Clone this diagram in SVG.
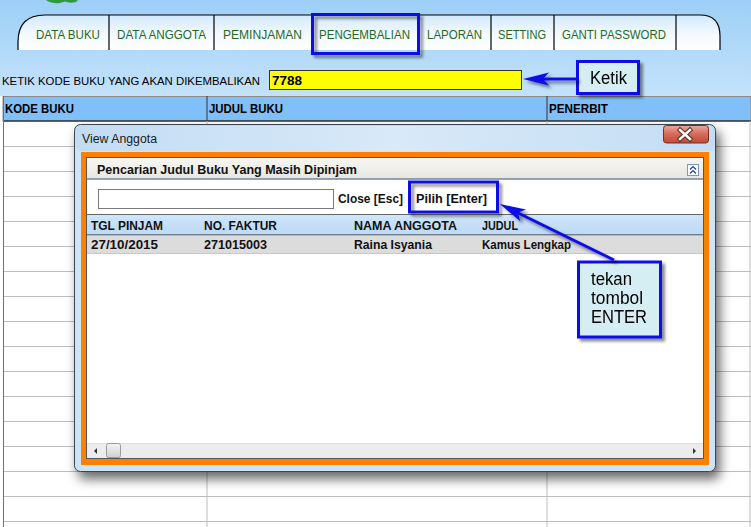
<svg xmlns="http://www.w3.org/2000/svg" width="751" height="527" viewBox="0 0 751 527">
<defs>
<style>
.ui{font-family:"Liberation Sans",Arial,sans-serif;}
.tab{font-family:"Liberation Sans",Arial,sans-serif;font-size:12.5px;fill:#1f6a1f;}
.hdr{font-family:"Liberation Sans",Arial,sans-serif;font-size:12px;font-weight:bold;fill:#000;}
.cell{font-family:"Liberation Sans",Arial,sans-serif;font-size:12px;font-weight:bold;fill:#111;}
.call{font-family:"Liberation Sans",Arial,sans-serif;font-size:17.5px;fill:#000;}
.grid{stroke:#bdbdbd;stroke-width:1;}
.sep{stroke:#000;stroke-width:1.2;}
.hl{fill:none;stroke:#1010e8;stroke-width:3;}
.box{fill:#d4eef4;stroke:#1010e8;stroke-width:3;}
.conn{fill:none;stroke:#1010e8;stroke-width:3;}
</style>
<linearGradient id="bg" x1="0" y1="0" x2="0" y2="1">
<stop offset="0" stop-color="#9dcff7"/>
<stop offset="1" stop-color="#c4e2fb"/>
</linearGradient>
<linearGradient id="tabg" x1="0" y1="0" x2="0" y2="1">
<stop offset="0" stop-color="#d2e9fb"/>
<stop offset="0.55" stop-color="#f4f9fe"/>
<stop offset="1" stop-color="#ffffff"/>
</linearGradient>
<linearGradient id="frameg" x1="0" y1="0" x2="0" y2="1">
<stop offset="0" stop-color="#bcd9f3"/>
<stop offset="0.08" stop-color="#cfe4f7"/>
<stop offset="1" stop-color="#cde3f7"/>
</linearGradient>
<linearGradient id="titleg" x1="0" y1="0" x2="1" y2="0">
<stop offset="0" stop-color="#c2dcf4"/>
<stop offset="0.5" stop-color="#d8e9f8"/>
<stop offset="1" stop-color="#c4ddf4"/>
</linearGradient>
<linearGradient id="bandg" x1="0" y1="0" x2="0" y2="1">
<stop offset="0" stop-color="#f7f6f2"/>
<stop offset="1" stop-color="#e8e6de"/>
</linearGradient>
<linearGradient id="gridhg" x1="0" y1="0" x2="0" y2="1">
<stop offset="0" stop-color="#d0e6fa"/>
<stop offset="1" stop-color="#bcd9f5"/>
</linearGradient>
<linearGradient id="closeg" x1="0" y1="0" x2="0" y2="1">
<stop offset="0" stop-color="#e9a89c"/>
<stop offset="0.5" stop-color="#d46a58"/>
<stop offset="1" stop-color="#c24a34"/>
</linearGradient>
<linearGradient id="thumbg" x1="0" y1="0" x2="0" y2="1">
<stop offset="0" stop-color="#f4f4f4"/>
<stop offset="1" stop-color="#cfcfcf"/>
</linearGradient>
<filter id="sh" x="-20%" y="-20%" width="150%" height="160%">
<feDropShadow dx="3" dy="3" stdDeviation="1.8" flood-color="#000" flood-opacity="0.45"/>
</filter>
<filter id="dlgsh" x="-5%" y="-5%" width="115%" height="120%">
<feDropShadow dx="4" dy="7" stdDeviation="6" flood-color="#000" flood-opacity="0.6"/>
</filter>
<marker id="ah" markerUnits="userSpaceOnUse" markerWidth="26" markerHeight="16" viewBox="0 0 26 16" refX="18" refY="8" orient="auto">
<path d="M0,1.5 L26,8 L0,14.5 L6,8 Z" fill="#1010e8"/>
</marker>
</defs>

<g id="background">
<rect x="0" y="0" width="751" height="96" fill="url(#bg)"/>
<path d="M46,0 Q52,4 60,3 Q66,1 70,0 Z M62,0 Q68,4 76,2 L78,0 Z" fill="#2e9a3e"/>
</g>

<g id="tabs">
<path d="M18,50 L18,42 Q18,15 45,15 L700,15 Q720,15 720,36 L720,50 Z" fill="url(#tabg)"/>
<path d="M18,50 L18,42 Q18,15 45,15 L700,15 Q720,15 720,36 L720,50" fill="none" stroke="#000" stroke-width="1.2"/>
<line class="sep" x1="109" y1="15" x2="109" y2="50"/>
<line class="sep" x1="214" y1="15" x2="214" y2="50"/>
<line class="sep" x1="312" y1="15" x2="312" y2="50"/>
<line class="sep" x1="419" y1="15" x2="419" y2="50"/>
<line class="sep" x1="491" y1="15" x2="491" y2="50"/>
<line class="sep" x1="554" y1="15" x2="554" y2="50"/>
<line class="sep" x1="676" y1="15" x2="676" y2="50"/>
<text class="tab" x="36" y="39" textLength="64" lengthAdjust="spacingAndGlyphs">DATA BUKU</text>
<text class="tab" x="117" y="39" textLength="89" lengthAdjust="spacingAndGlyphs">DATA ANGGOTA</text>
<text class="tab" x="223" y="39" textLength="79" lengthAdjust="spacingAndGlyphs">PEMINJAMAN</text>
<text class="tab" x="319" y="39" textLength="91" lengthAdjust="spacingAndGlyphs">PENGEMBALIAN</text>
<text class="tab" x="427" y="39" textLength="55" lengthAdjust="spacingAndGlyphs">LAPORAN</text>
<text class="tab" x="498" y="39" textLength="48" lengthAdjust="spacingAndGlyphs">SETTING</text>
<text class="tab" x="562" y="39" textLength="104" lengthAdjust="spacingAndGlyphs">GANTI PASSWORD</text>
<rect id="hl-pengembalian" class="hl" x="312.5" y="14.5" width="106" height="39" filter="url(#sh)"/>
</g>

<g id="input-row">
<text class="ui" x="2" y="85" font-size="11.3" fill="#000" textLength="258" lengthAdjust="spacingAndGlyphs">KETIK KODE BUKU YANG AKAN DIKEMBALIKAN</text>
<rect x="269.5" y="70.5" width="252" height="19" fill="#ffff00" stroke="#333" stroke-width="1"/>
<text class="ui" x="272" y="85" font-size="13" font-weight="bold" fill="#000" textLength="30" lengthAdjust="spacingAndGlyphs">7788</text>
</g>

<g id="table">
<rect x="3" y="121" width="748" height="406" fill="#ffffff"/>
<rect x="3" y="96.5" width="748" height="24.5" fill="#80bff8" stroke="#8a8a8a" stroke-width="1"/>
<line x1="3" y1="121" x2="751" y2="121" stroke="#000" stroke-width="1.2"/>
<line x1="207" y1="96" x2="207" y2="121" stroke="#333" stroke-width="1"/>
<line x1="547" y1="96" x2="547" y2="121" stroke="#333" stroke-width="1"/>
<text class="hdr" x="5" y="113" textLength="69" lengthAdjust="spacingAndGlyphs">KODE BUKU</text>
<text class="hdr" x="209" y="113" textLength="74" lengthAdjust="spacingAndGlyphs">JUDUL BUKU</text>
<text class="hdr" x="549" y="113" textLength="59" lengthAdjust="spacingAndGlyphs">PENERBIT</text>
<g class="grid">
<line x1="3" y1="146.5" x2="751" y2="146.5"/>
<line x1="3" y1="171.5" x2="751" y2="171.5"/>
<line x1="3" y1="196.5" x2="751" y2="196.5"/>
<line x1="3" y1="221.5" x2="751" y2="221.5"/>
<line x1="3" y1="246.5" x2="751" y2="246.5"/>
<line x1="3" y1="271.5" x2="751" y2="271.5"/>
<line x1="3" y1="296.5" x2="751" y2="296.5"/>
<line x1="3" y1="321.5" x2="751" y2="321.5"/>
<line x1="3" y1="346.5" x2="751" y2="346.5"/>
<line x1="3" y1="371.5" x2="751" y2="371.5"/>
<line x1="3" y1="396.5" x2="751" y2="396.5"/>
<line x1="3" y1="421.5" x2="751" y2="421.5"/>
<line x1="3" y1="446.5" x2="751" y2="446.5"/>
<line x1="3" y1="471.5" x2="751" y2="471.5"/>
<line x1="3" y1="496.5" x2="751" y2="496.5"/>
<line x1="3" y1="521.5" x2="751" y2="521.5"/>
<line x1="207" y1="121" x2="207" y2="527"/>
<line x1="547" y1="121" x2="547" y2="527"/>
<line x1="750" y1="121" x2="750" y2="527"/>
</g>
<line x1="3.5" y1="96" x2="3.5" y2="527" stroke="#707070" stroke-width="1"/>
</g>

<g id="dialog">
<rect x="74.5" y="124.5" width="641" height="347" rx="6" fill="url(#frameg)" stroke="#3d4550" stroke-width="1" filter="url(#dlgsh)"/>
<rect x="76" y="126" width="638" height="25" rx="5" fill="url(#titleg)"/>
<text class="ui" x="82" y="143" font-size="12" fill="#1a1a1a" textLength="75" lengthAdjust="spacingAndGlyphs">View Anggota</text>
<rect x="663.5" y="125.5" width="45" height="17.5" rx="3" fill="url(#closeg)" stroke="#7a2c22" stroke-width="1"/>
<path d="M680,130 L690,139 M690,130 L680,139" stroke="#5a2a22" stroke-width="4.5" stroke-linecap="square"/>
<path d="M680,130 L690,139 M690,130 L680,139" stroke="#ffffff" stroke-width="2.6" stroke-linecap="square"/>
<rect x="81" y="152" width="628" height="313" fill="#ff8000"/>
<rect x="86.5" y="157.5" width="617" height="301" fill="#ffffff" stroke="#555" stroke-width="1"/>
<rect x="87" y="158" width="616" height="21" fill="url(#bandg)"/>
<line x1="87" y1="179" x2="703" y2="179" stroke="#2f4f7a" stroke-width="1"/>
<text class="ui" x="97" y="174" font-size="12.5" font-weight="bold" fill="#111" textLength="260" lengthAdjust="spacingAndGlyphs">Pencarian Judul Buku Yang Masih Dipinjam</text>
<rect x="687.5" y="164.5" width="11" height="11" fill="#ffffff" stroke="#7b98c8" stroke-width="1"/>
<path d="M690,169.5 L693,166.5 L696,169.5 M690,173.5 L693,170.5 L696,173.5" fill="none" stroke="#1a3caa" stroke-width="1.2"/>
<rect x="98.5" y="189.5" width="235" height="19" fill="#ffffff" stroke="#7a7a7a" stroke-width="1"/>
<text class="ui" x="338" y="203" font-size="12.5" font-weight="bold" fill="#111" textLength="65" lengthAdjust="spacingAndGlyphs">Close [Esc]</text>
<text class="ui" x="416" y="203" font-size="12.5" font-weight="bold" fill="#111" textLength="71" lengthAdjust="spacingAndGlyphs">Pilih [Enter]</text>
<rect x="87" y="214" width="616" height="21" fill="url(#gridhg)"/>
<line x1="87" y1="214.5" x2="703" y2="214.5" stroke="#666" stroke-width="1"/>
<line x1="87" y1="235" x2="703" y2="235" stroke="#222" stroke-width="1"/>
<text class="cell" x="91" y="230" textLength="72" lengthAdjust="spacingAndGlyphs">TGL PINJAM</text>
<text class="cell" x="204" y="230" textLength="73" lengthAdjust="spacingAndGlyphs">NO. FAKTUR</text>
<text class="cell" x="354" y="230" textLength="103" lengthAdjust="spacingAndGlyphs">NAMA ANGGOTA</text>
<text class="cell" x="482" y="230" textLength="36" lengthAdjust="spacingAndGlyphs">JUDUL</text>
<rect x="87" y="235.5" width="616" height="17.5" fill="#dcdcdc"/>
<line x1="87" y1="253.5" x2="703" y2="253.5" stroke="#c8c8c8" stroke-width="1"/>
<text class="cell" x="91" y="249" textLength="67" lengthAdjust="spacingAndGlyphs" style="font-weight:600">27/10/2015</text>
<text class="cell" x="204" y="249" textLength="63" lengthAdjust="spacingAndGlyphs" style="font-weight:600">271015003</text>
<text class="cell" x="354" y="249" textLength="78" lengthAdjust="spacingAndGlyphs" style="font-weight:600">Raina Isyania</text>
<text class="cell" x="482" y="249" textLength="89" lengthAdjust="spacingAndGlyphs" style="font-weight:600">Kamus Lengkap</text>
<rect x="87" y="443" width="616" height="15" fill="#ececec"/>
<line x1="87" y1="443.5" x2="703" y2="443.5" stroke="#e0e0e0" stroke-width="1"/>
<rect x="106.5" y="443.5" width="14" height="14" rx="2" fill="url(#thumbg)" stroke="#9a9a9a" stroke-width="1"/>
<path d="M94,451 L97,448 L97,454 Z" fill="#333"/>
<path d="M696,451 L693,448 L693,454 Z" fill="#333"/>
</g>

<g id="callout-ketik" filter="url(#sh)">
<rect class="box" x="577.5" y="61.5" width="61" height="32"/>
<text class="call" x="590" y="84" textLength="37" lengthAdjust="spacingAndGlyphs">Ketik</text>
</g>

<g id="highlight-pilih">
<rect class="hl" x="409.5" y="182" width="88" height="30" filter="url(#sh)"/>
</g>

<g id="callout-enter" filter="url(#sh)">
<rect class="box" x="578.5" y="262" width="82" height="75"/>
<text class="call" x="591" y="285" textLength="41" lengthAdjust="spacingAndGlyphs">tekan</text>
<text class="call" x="591" y="304" textLength="52" lengthAdjust="spacingAndGlyphs">tombol</text>
<text class="call" x="591" y="323" textLength="56" lengthAdjust="spacingAndGlyphs">ENTER</text>
</g>

<g id="connectors" filter="url(#sh)">
<path class="conn" d="M577,79 L531,79" marker-end="url(#ah)"/>
<path class="conn" d="M614,260 L507,207.5" marker-end="url(#ah)"/>
</g>
</svg>
